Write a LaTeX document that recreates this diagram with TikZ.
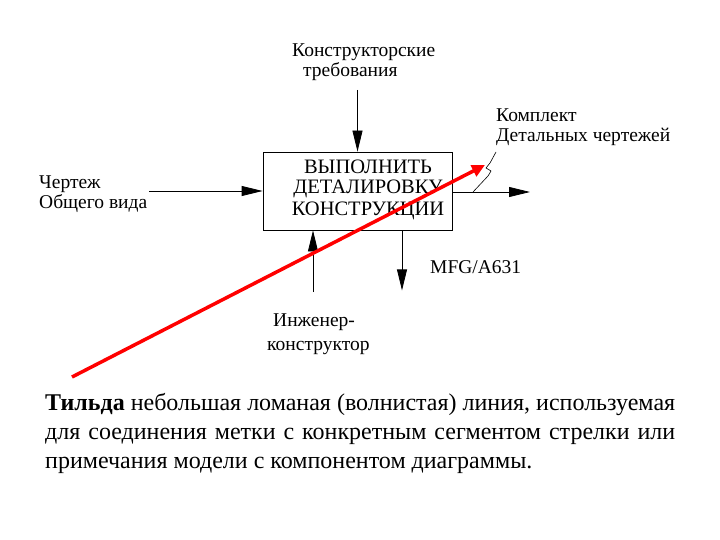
\documentclass[tikz,border=0pt]{standalone}
\usepackage{fontspec}
\setmainfont{Liberation Serif}
\usetikzlibrary{arrows.meta, positioning}

\begin{document}
\begin{tikzpicture}[
        x = 1pt, y = -1pt,
        >= {Triangle[length = 21pt, width = 10pt]},
        arr/.style = {->, line width = 0.8pt},
        lab/.style = {inner sep = 0pt, anchor = base west, align = left, font = \fontsize{19.5}{20}\selectfont},
        func/.style = {draw, line width = 0.8pt, minimum width = 189pt, minimum height = 78pt, inner sep = 0pt},
        tilde/.style = {line width = 0.6pt},
        note/.style = {-{Triangle[length = 13pt, width = 12pt]}, red, line width = 3.5pt}
    ]
    \useasboundingbox (0,0) rectangle (720,540);

    % activity box
    \node[func] (box) at (357.5,191) {};
    \node[inner sep = 0pt, anchor = base, align = center, font = \fontsize{20.5}{21}\selectfont] (boxtext) at (368,215) {ВЫПОЛНИТЬ\\ДЕТАЛИРОВКУ\\КОНСТРУКЦИИ};

    % labels
    \node[lab] (ctrl) at (292,77) {Конструкторские\\\hspace*{11pt}требования};
    \node[lab] (inlab) at (39,208) {Чертеж\\Общего вида};
    \node[lab] (outlab) at (496,142) {Комплект\\Детальных чертежей};
    \node[lab, font = \fontsize{19.5}{24}\selectfont] (mech) at (267,350) {\hspace*{6pt}Инженер-\\конструктор};
    \node[lab] (ref) at (430,273) {MFG/A631};

    \coordinate (ctrltop) at (357.5,90);
    \coordinate (mechfoot) at (313,292);
    \coordinate (outend) at (530,192);
    \coordinate (tildefoot) at (473,192);
    \coordinate (tildetop) at (496,152);
    \coordinate (notestart) at (72,377);
    \coordinate (notetip) at (485,165);

    % arrows
    \draw[arr] (ctrltop) -- (box.north);
    \draw[arr] (inlab.east |- box.west) ++(2,0) -- (box.west);
    \draw[arr] (box.east |- outend) -- (outend);
    \draw[arr] (mechfoot) -- (mechfoot |- box.south);
    \draw[arr] (box.south -| ref.west) ++(-28,0) -- ++(0,60);

    % tilde
    \draw[tilde] (tildefoot) -- (488,176) -- (491,171) -- (486,168) -- (490,163) -- (tildetop);

    % red pointer
    \draw[note] (notestart) -- (notetip);

    % caption
    \node[inner sep = 0pt, anchor = base west, text width = 630pt, align = justify,
          font = \fontsize{24}{29}\selectfont] (caption) at (45,410)
        {\textbf{Тильда} небольшая ломаная (волнистая) линия, используемая для соединения метки с~конкретным сегментом стрелки или примечания модели с компонентом диаграммы.};
\end{tikzpicture}
\end{document}
